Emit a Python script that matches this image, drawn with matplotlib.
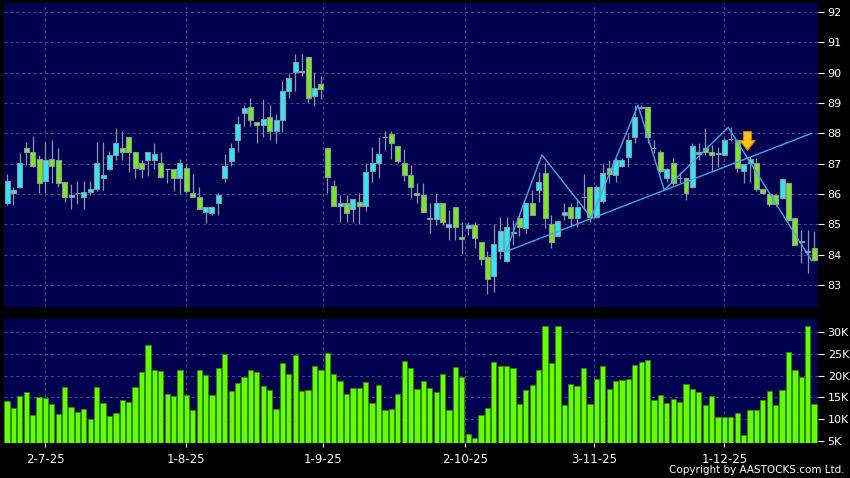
import matplotlib
matplotlib.use('Agg')
import matplotlib.pyplot as plt
import numpy as np

# daily OHLC
opens = [85.69, 86.02, 86.24, 87.51, 87.37, 87.14, 86.42, 87.14, 87.12, 86.41,
         85.89, 86.02, 85.89, 86.07, 86.15, 86.52, 86.81, 87.29, 87.50, 87.87,
         87.40, 87.01, 87.12, 87.12, 87.01, 86.81, 86.81, 86.52, 86.85, 86.04,
         85.89, 85.40, 85.36, 85.69, 86.52, 87.10, 87.78, 88.66, 88.86, 88.36,
         88.26, 88.53, 88.09, 88.44, 89.41, 90.01, 90.01, 90.51, 89.23, 89.62,
         87.51, 86.26, 85.60, 85.69, 85.49, 85.75, 85.60, 86.76, 87.03, 87.87,
         87.98, 87.59, 87.03, 86.62, 86.04, 85.96, 85.19, 85.16, 85.69, 84.90,
         85.58, 84.59, 84.87, 84.96, 84.40, 83.91, 83.30, 84.12, 83.80, 84.70,
         85.20, 84.89, 85.69, 86.13, 86.70, 85.00, 84.62, 85.29, 85.56, 85.20,
         85.89, 86.22, 85.23, 85.78, 86.85, 86.63, 86.93, 87.21, 87.89, 88.85,
         88.86, 87.51, 87.40, 86.52, 87.01, 86.52, 86.52, 86.22, 87.32, 87.51,
         87.37, 87.32, 87.29, 87.80, 87.78, 86.76, 87.01, 87.01, 86.15, 86.00,
         85.98, 85.88, 86.35, 85.20, 84.43, 84.08, 84.23]
highs = [86.66, 86.24, 87.34, 87.70, 87.92, 87.29, 87.71, 87.78, 87.50, 86.41,
         86.33, 86.43, 86.43, 86.43, 87.70, 87.70, 87.42, 88.16, 88.08, 87.87,
         87.40, 87.12, 87.37, 87.67, 87.40, 86.81, 86.81, 87.14, 87.01, 86.66,
         86.22, 85.58, 85.60, 86.02, 87.31, 87.67, 88.57, 88.93, 89.15, 88.36,
         89.12, 88.93, 88.64, 89.73, 89.98, 90.62, 90.62, 90.51, 90.01, 89.89,
         87.51, 86.46, 85.97, 85.97, 85.84, 86.02, 87.03, 87.54, 87.89, 88.09,
         88.09, 87.59, 87.47, 86.96, 86.35, 86.35, 85.69, 86.02, 85.69, 85.47,
         85.58, 85.09, 85.09, 85.09, 84.40, 84.13, 85.00, 85.25, 85.25, 85.14,
         85.31, 85.69, 86.13, 86.74, 87.01, 85.31, 85.11, 85.69, 85.69, 85.82,
         86.66, 86.22, 86.30, 87.01, 87.12, 87.20, 87.18, 88.00, 88.93, 88.93,
         88.86, 87.78, 87.45, 86.85, 87.18, 86.74, 86.55, 87.67, 87.67, 88.16,
         87.62, 87.56, 87.84, 88.20, 87.80, 87.00, 87.23, 87.18, 86.15, 86.00,
         86.00, 86.50, 86.35, 85.20, 84.81, 84.81, 84.78]
lows = [85.65, 85.64, 86.20, 86.96, 86.90, 86.04, 86.02, 86.35, 86.24, 85.75,
        85.50, 85.67, 85.50, 85.97, 86.10, 86.13, 86.80, 87.12, 87.12, 86.74,
        86.52, 86.52, 86.60, 86.81, 86.52, 86.35, 86.11, 86.04, 86.02, 85.89,
        85.49, 85.05, 85.30, 85.31, 86.41, 86.92, 87.40, 88.24, 88.24, 87.69,
        87.89, 87.78, 87.69, 88.05, 89.15, 89.41, 89.90, 89.01, 88.91, 89.12,
        86.02, 85.60, 85.09, 85.09, 85.09, 85.00, 85.45, 86.41, 86.52, 87.45,
        87.14, 87.03, 86.44, 85.86, 85.69, 85.40, 84.70, 84.98, 84.98, 84.48,
        84.48, 84.01, 84.63, 84.23, 83.66, 82.70, 82.78, 83.85, 83.74, 84.32,
        84.60, 84.70, 85.31, 85.75, 84.87, 84.21, 84.60, 85.14, 84.90, 84.92,
        85.47, 85.09, 85.20, 85.70, 86.35, 86.41, 86.90, 86.90, 87.67, 88.80,
        87.67, 87.34, 86.70, 86.41, 86.30, 86.35, 85.80, 86.20, 87.12, 87.29,
        86.74, 86.90, 87.27, 87.75, 86.74, 86.35, 86.41, 86.10, 86.00, 85.60,
        85.60, 85.85, 85.10, 84.30, 83.71, 83.38, 83.80]
closes = [86.43, 86.13, 87.01, 87.40, 86.92, 86.35, 87.12, 86.92, 86.37, 85.89,
          85.96, 86.02, 86.07, 86.15, 87.01, 86.62, 87.27, 87.67, 87.37, 87.37,
          86.85, 86.81, 87.37, 87.32, 86.55, 86.81, 86.52, 87.01, 86.11, 85.89,
          85.49, 85.58, 85.56, 85.97, 86.92, 87.51, 88.30, 88.82, 88.44, 88.26,
          88.46, 88.09, 88.44, 89.41, 89.81, 90.37, 90.07, 89.15, 89.51, 89.46,
          86.55, 85.60, 85.69, 85.38, 85.84, 85.60, 86.74, 87.03, 87.31, 87.87,
          87.67, 87.10, 86.63, 86.24, 85.96, 85.40, 85.19, 85.69, 85.09, 85.00,
          84.90, 84.51, 84.96, 84.54, 83.85, 83.19, 84.34, 84.79, 84.90, 84.75,
          84.90, 85.69, 85.31, 86.41, 85.20, 84.43, 85.11, 85.40, 85.20, 85.56,
          85.89, 85.23, 86.22, 86.70, 86.66, 87.12, 87.12, 87.78, 88.53, 88.87,
          87.87, 87.51, 86.77, 86.81, 86.37, 86.52, 86.02, 87.59, 87.40, 87.40,
          87.29, 87.32, 87.78, 87.80, 86.85, 86.99, 87.14, 86.15, 86.02, 85.67,
          85.67, 86.49, 85.14, 84.32, 84.43, 84.12, 83.82]

# volume in thousands
volume = [14.2, 12.5, 15.3, 16.3, 10.9, 15.2, 14.8, 13.4, 11.2, 17.3,
          12.9, 11.6, 12.3, 10.1, 17.5, 13.7, 10.7, 11.4, 14.5, 14.0,
          17.4, 20.8, 27.1, 21.4, 21.0, 15.7, 15.4, 21.2, 15.5, 12.2,
          21.2, 20.2, 15.6, 21.8, 25.0, 16.5, 18.3, 19.6, 21.3, 20.8,
          17.7, 16.7, 12.3, 22.8, 20.4, 24.7, 16.4, 16.7, 22.1, 21.3,
          25.1, 20.4, 18.7, 15.7, 17.1, 17.1, 18.5, 13.8, 17.8, 12.1,
          12.3, 15.8, 23.4, 21.7, 17.0, 18.7, 17.1, 16.3, 20.3, 12.2,
          21.9, 19.8, 6.5, 5.7, 10.9, 12.6, 23.2, 22.3, 22.1, 21.8,
          13.6, 16.6, 17.8, 21.4, 31.5, 23.0, 31.4, 13.2, 18.0, 17.6,
          21.8, 13.4, 19.3, 22.1, 17.0, 18.8, 19.1, 19.3, 22.4, 23.1,
          23.5, 14.4, 15.6, 13.7, 14.7, 14.0, 18.0, 17.0, 16.2, 13.2,
          15.4, 10.6, 10.5, 10.5, 11.5, 6.4, 12.1, 12.1, 14.5, 16.4,
          13.2, 16.7, 25.5, 21.4, 19.6, 31.5, 13.6]

date_labels = ['2-7-25', '1-8-25', '1-9-25', '2-10-25', '3-11-25', '1-12-25']
date_pos = [6, 28, 49.4, 71.5, 91.7, 112]

price_ticks = list(range(83, 93))
vol_ticks = [5, 10, 15, 20, 25, 30]

# pattern lines drawn on the chart
zz_idx = [77.9, 83.5, 91.2, 98.5, 102.6, 112.6, 125.6]
zz_price = [84.1, 87.29, 85.22, 88.93, 86.13, 88.2, 83.8]
trend_idx = [77.9, 125.6]
trend_price = [84.1, 88.0]
arrow_idx = 115.6
arrow_price = (88.15, 87.35)

bg = '#000050'
grid_c = '#4c4c95'
up_c = '#2ee8f5'
down_c = '#7ae81c'
edge_c = '#8a98a4'
vol_c = '#66ff00'

x = np.arange(len(opens))
o = np.array(opens)
c = np.array(closes)

fig = plt.figure(figsize=(8.5, 4.78), dpi=100, facecolor='black')
ax = fig.add_axes([0.0047, 0.3577, 0.9576, 0.636], facecolor=bg)
ax2 = fig.add_axes([0.0047, 0.0726, 0.9576, 0.26], facecolor=bg)

# candles
ax.vlines(x, lows, highs, color=edge_c, lw=0.9, zorder=2)
body_b = np.minimum(o, c)
body_h = np.maximum(np.abs(c - o), 0.02)
colors = [up_c if cc > oo else (down_c if cc < oo else edge_c) for oo, cc in zip(o, c)]
ax.bar(x, body_h, bottom=body_b, width=0.78, color=colors, edgecolor=edge_c,
       linewidth=0.8, zorder=3)

ax.plot(zz_idx, zz_price, color='#4aa6e6', lw=1.0, zorder=4)
ax.plot(trend_idx, trend_price, color='#4aa6e6', lw=1.0, zorder=4)
ax.annotate('', xy=(arrow_idx, arrow_price[1]), xytext=(arrow_idx, arrow_price[0]),
            arrowprops=dict(arrowstyle='simple,head_width=1.1,head_length=0.7,tail_width=0.55',
                            fc='#ffc21a', ec='#d08a00', lw=0.8), zorder=5)

ax.set_xlim(-0.47, 126.6)
ax.set_ylim(82.27, 92.3)
ax.set_yticks(price_ticks)
ax.set_xticks(date_pos)
ax.yaxis.tick_right()
ax.tick_params(axis='y', colors='white', length=4, pad=3, labelsize=8)
ax.tick_params(axis='x', length=0, labelbottom=False)
ax.grid(True, color=grid_c, linestyle=(0, (3, 3)), lw=0.7)
ax.set_axisbelow(True)

# volume
ax2.bar(x, volume, width=0.82, color=vol_c, edgecolor='#2f8a00', linewidth=0.6, zorder=3)
ax2.set_xlim(-0.47, 126.6)
ax2.set_ylim(4.47, 33.0)
ax2.set_yticks(vol_ticks)
ax2.set_yticklabels([f'{v}K' for v in vol_ticks])
ax2.yaxis.tick_right()
ax2.set_xticks(date_pos)
ax2.set_xticklabels(date_labels)
ax2.tick_params(axis='y', colors='white', length=4, pad=3, labelsize=8)
ax2.tick_params(axis='x', colors='white', length=3, pad=4, labelsize=8.5)
ax2.grid(True, color=grid_c, linestyle=(0, (3, 3)), lw=0.7)
ax2.set_axisbelow(True)

for a in (ax, ax2):
    for s in a.spines.values():
        s.set_visible(False)

fig.text(0.994, 0.006, 'Copyright by AASTOCKS.com Ltd.', color='white',
         fontsize=7.5, ha='right', va='bottom')

fig.savefig('out.png', dpi=100, facecolor='black')
